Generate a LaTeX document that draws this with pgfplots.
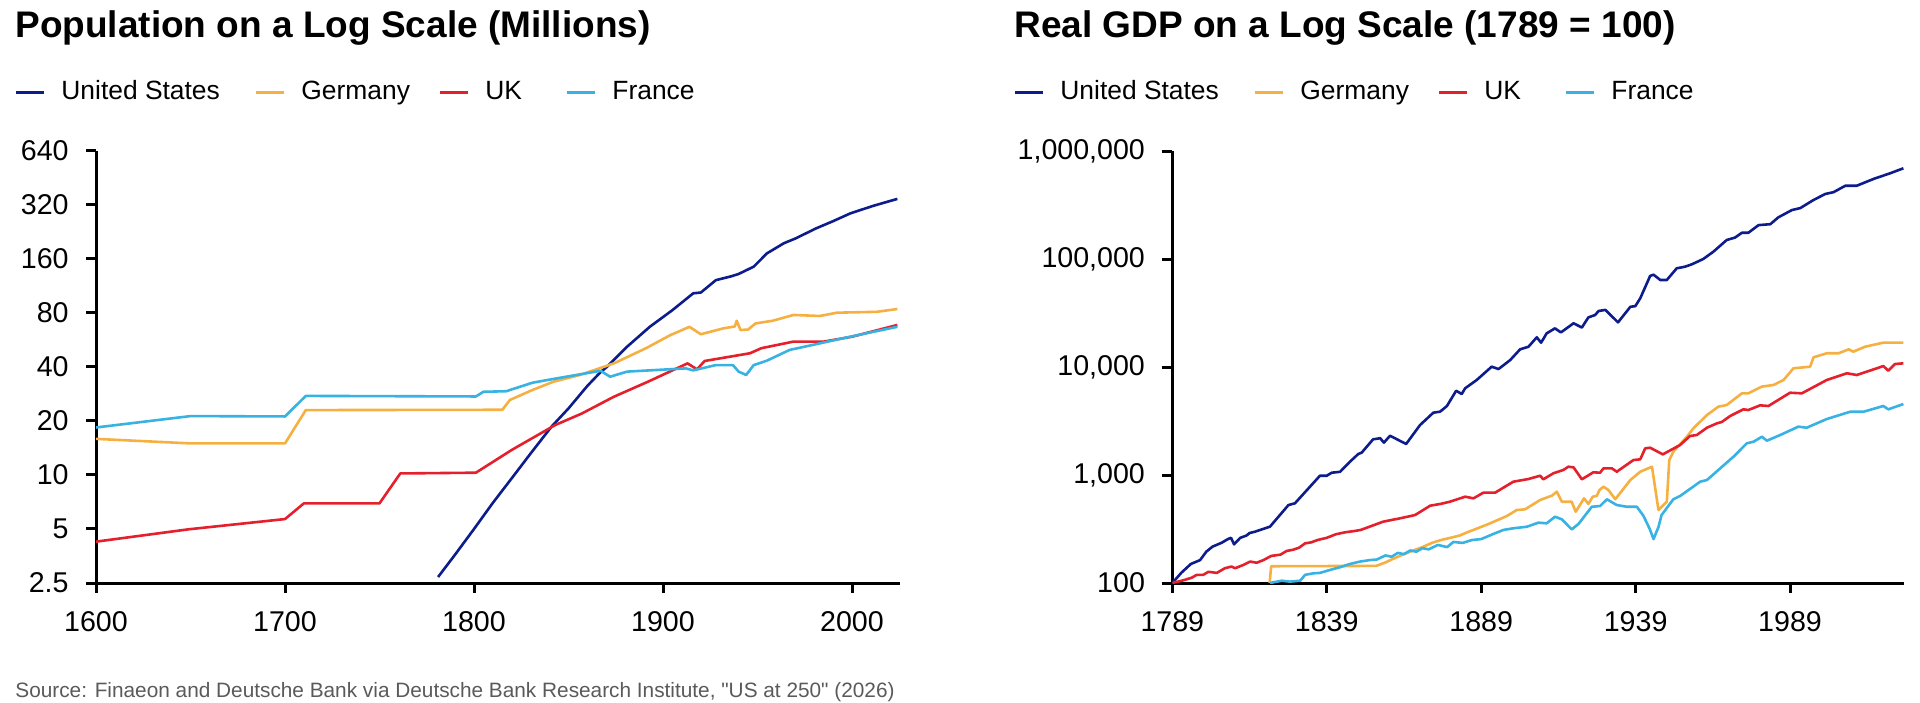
\documentclass[border=0pt]{standalone}
\usepackage{pgfplots}
\pgfplotsset{compat=1.18}
\usepackage{fontspec}
\setmainfont{Liberation Sans}
\newfontfamily\srcfont{Liberation Sans}[Ligatures=TeXOff]
\definecolor{usblue}{RGB}{12,28,140}
\definecolor{deorange}{RGB}{246,176,66}
\definecolor{ukred}{RGB}{228,32,44}
\definecolor{frblue}{RGB}{56,178,227}
\definecolor{srcgray}{RGB}{90,90,90}

\pgfplotstableread{
year val
1781 2.7
1790 3.6
1800 5.0
1810 7.0
1820 9.6
1830 13.2
1841 18.6
1850 23.5
1860 31.4
1867 37.5
1870 39.8
1881 51.9
1893 67
1905 83
1916 103
1920 104
1928 122
1936 128
1940 132
1948 145
1955 172
1964 196
1970 208
1981 237
1990 260
1999 287
2011 316
2024 346
}\popUS

\pgfplotstableread{
year val
1600 15.9
1650 15.0
1700 15.0
1711 23.0
1815 23.1
1819 26.2
1831 29.8
1842 33.1
1856 36.1
1874 41.9
1891 50.9
1904 60.3
1914 67
1920 60.9
1932 65.7
1938 67.3
1939 72.4
1941 64.3
1945 64.7
1949 70
1958 72.4
1969 78
1983 77
1992 80.3
2013 81.2
2024 84.2
}\popDE

\pgfplotstableread{
year val
1600 4.25
1649 4.98
1700 5.68
1710 6.95
1750 6.95
1761 10.2
1801 10.3
1820 13.8
1843 19
1857 22
1874 27.3
1892 33.1
1913 41.9
1918 38.8
1922 43.2
1946 47.7
1952 50.9
1969 55.4
1985 55.4
2000 59
2024 68.6
}\popUK

\pgfplotstableread{
year val
1600 18.4
1650 21.3
1700 21.2
1711 27.6
1801 27.4
1805 29.1
1817 29.3
1831 32.7
1844 34.6
1867 38.1
1872 35.3
1881 37.7
1912 39.3
1916 38.3
1928 41
1937 41
1940 37.7
1944 36.1
1948 41
1955 43.4
1967 49.8
1981 53.6
1999 59
2024 67
}\popFR

\pgfplotstableread{
year val
1789 100
1792 125
1795 150
1798 163
1800 195
1802 217
1805 236
1807 255
1808 262
1809 228
1811 262
1813 275
1814 290
1816 300
1818 314
1820.6 332
1826.6 527
1828.7 547
1836.8 985
1839 985
1840.6 1050
1843.3 1070
1846.5 1327
1849.2 1564
1850.3 1610
1854 2140
1856.3 2190
1857.5 1995
1859.5 2310
1864.7 1937
1869.2 2900
1873.5 3775
1875.7 3860
1877.9 4350
1880.9 6030
1882.7 5620
1883.8 6350
1887.6 7600
1892.4 10070
1894.6 9570
1898.4 11600
1901.6 14580
1904.3 15400
1907 18830
1908.4 16800
1910.2 20500
1912.9 22800
1914.8 20900
1918.9 25400
1921.6 23200
1923.7 28800
1925.9 30300
1927 33000
1929.2 33800
1933.3 25900
1937.3 36100
1938.9 36600
1940.5 43300
1943.7 69700
1944.8 71600
1947 63900
1949.1 63900
1952.3 82000
1955 84900
1957.2 89300
1960.9 100000
1964.2 117000
1968.5 150000
1971.2 158000
1973.4 175000
1975.5 175000
1978.8 206000
1982.6 210000
1985.2 243000
1989.6 284000
1992.3 296000
1996.6 352000
2000.4 400000
2003.1 416000
2006.9 477000
2010.6 477000
2016 551000
2021.4 622000
2025.7 692000
}\gdpUS

\pgfplotstableread{
year val
1789 100
1792.6 106
1795.3 112
1796.9 119
1799 119
1800.7 127
1803.4 124
1806 137
1808.2 142
1809.3 137
1812 147
1814.2 158
1816.3 154
1818.5 163
1821 178
1824 183
1826 198
1828 203
1830 212
1832 233
1834 238
1836 250
1839 262
1842 283
1845 295
1848 303
1850 310
1857.3 370
1862.7 397
1867.6 426
1872.5 520
1875.7 539
1878.9 566
1883.8 630
1886.5 608
1889.7 686
1893.5 686
1899.4 867
1904.3 918
1908.1 985
1909.1 912
1912.4 1038
1915.6 1113
1917.2 1193
1918.9 1178
1921.6 912
1925.3 1059
1927.5 1050
1928.6 1153
1931.3 1153
1932.9 1073
1938.3 1376
1940.5 1397
1942.1 1766
1943.7 1790
1947.8 1553
1953.4 1896
1956.6 2297
1958.8 2345
1962.1 2741
1965.3 3007
1966.9 3097
1969.6 3518
1973.9 4054
1975.5 3999
1979.3 4417
1982 4355
1989 5781
1992.8 5703
2000.9 7586
2007.4 8750
2010.6 8433
2017.1 9727
2019.2 10210
2020.8 9245
2023 10660
2025.7 10820
}\gdpUK

\pgfplotstableread{
year val
1820.5 100
1821 143
1855 144
1858 155
1861 170
1864 185
1867 200
1870 215
1873 235
1876 250
1879 262
1882 275
1884.5 295
1886.5 310
1891.9 357
1897.3 417
1900.5 474
1903.2 481
1908.1 587
1911.9 644
1913.5 701
1915.1 566
1918.3 566
1919.6 457
1922.3 608
1923.7 539
1925.1 630
1926.4 640
1927.3 726
1928.6 780
1930.2 726
1932.4 596
1937.3 899
1940.5 1073
1944.3 1193
1946.4 474
1949.1 566
1949.9 1376
1951.2 1644
1955.6 2263
1957.7 2706
1962.1 3593
1965.8 4296
1968.5 4447
1973.4 5703
1975.5 5703
1979.8 6577
1983.6 6813
1986.9 7586
1990.1 9727
1995.5 10070
1996.6 12300
2000.9 13400
2004.7 13400
2008 14580
2009.5 13870
2013.3 15420
2019.2 16800
2025.7 16800
}\gdpDE

\pgfplotstableread{
year val
1820.6 100
1824.4 105
1827.1 103
1830.4 105
1832 119
1834.7 123
1836.8 124
1840 132
1843.3 140
1846.5 150
1849.8 158
1853 163
1855.2 165
1858 180
1860 175
1862 190
1864 185
1866 200
1868 195
1870 210
1872 205
1875 225
1878 215
1880 240
1883 235
1886 250
1889 255
1893 285
1896.2 310
1899.4 321
1903.8 332
1907.5 362
1910.2 357
1912.9 411
1915.1 389
1918.3 314
1920.5 352
1924.8 508
1927.5 516
1929.7 596
1932.9 527
1936.2 508
1939.4 508
1941.5 420
1943.5 320
1944.8 255
1946.4 330
1947.4 426
1951.2 596
1953.4 639
1959.9 867
1962.1 899
1966.4 1153
1970.7 1479
1975 1965
1977.2 2035
1979.9 2263
1981.5 2078
1985.8 2345
1991.7 2804
1994.4 2741
2000.9 3300
2008.5 3855
2012.8 3855
2019.2 4355
2020.8 4054
2025.7 4543
}\gdpFR

\begin{document}
\begin{tikzpicture}[x=1pt,y=1pt]
\useasboundingbox (0,0) rectangle (960,351);

% ---------- Left chart ----------
\node[anchor=base west, inner sep=0pt, font=\bfseries\fontsize{18.5}{20}\selectfont] at (7.5,332) {Population on a Log Scale (Millions)};
\begin{scope}[font=\fontsize{13.2}{15}\selectfont]
\draw[usblue, line width=1.5pt] (8,304.5) -- (22,304.5);
\node[anchor=base west, inner sep=0pt] at (30.5,301) {United States};
\draw[deorange, line width=1.5pt] (128,304.5) -- (142,304.5);
\node[anchor=base west, inner sep=0pt] at (150.5,301) {Germany};
\draw[ukred, line width=1.5pt] (220,304.5) -- (234,304.5);
\node[anchor=base west, inner sep=0pt] at (242.5,301) {UK};
\draw[frblue, line width=1.5pt] (283.5,304.5) -- (297.5,304.5);
\node[anchor=base west, inner sep=0pt] at (306,301) {France};
\end{scope}

\begin{axis}[
  scale only axis,
  at={(48pt,59.5pt)}, anchor=south west,
  width=402pt, height=216pt,
  axis x line*=bottom, axis y line*=left,
  axis line style={line width=1.5pt, black},
  major tick style={line width=1.5pt, black},
  major tick length=5pt, tick align=outside,
  ymode=log, xminorticks=false, yminorticks=false,
  ticklabel style={font=\fontsize{14.3}{16}\selectfont},
  yticklabel style={anchor=east, inner sep=0pt, xshift=-8.5pt},
  xticklabel style={anchor=north, inner sep=0pt, yshift=-9pt},
  xmin=1600, xmax=2025.4,
  ymin=2.5, ymax=640,
  xtick={1600,1700,1800,1900,2000},
  xticklabels={1600,1700,1800,1900,2000},
  ytick={2.5,5,10,20,40,80,160,320,640},
  yticklabels={2.5,5,10,20,40,80,160,320,640},
]
\addplot[usblue, line width=1.3pt, line join=round, no markers] table[x=year,y=val] {\popUS};
\addplot[deorange, line width=1.3pt, line join=round, no markers] table[x=year,y=val] {\popDE};
\addplot[ukred, line width=1.3pt, line join=round, no markers] table[x=year,y=val] {\popUK};
\addplot[frblue, line width=1.3pt, line join=round, no markers] table[x=year,y=val] {\popFR};
\end{axis}

% ---------- Right chart ----------
\node[anchor=base west, inner sep=0pt, font=\bfseries\fontsize{18.5}{20}\selectfont] at (507,332) {Real GDP on a Log Scale (1789 = 100)};
\begin{scope}[font=\fontsize{13.2}{15}\selectfont, xshift=499.5pt]
\draw[usblue, line width=1.5pt] (8,304.5) -- (22,304.5);
\node[anchor=base west, inner sep=0pt] at (30.5,301) {United States};
\draw[deorange, line width=1.5pt] (128,304.5) -- (142,304.5);
\node[anchor=base west, inner sep=0pt] at (150.5,301) {Germany};
\draw[ukred, line width=1.5pt] (220,304.5) -- (234,304.5);
\node[anchor=base west, inner sep=0pt] at (242.5,301) {UK};
\draw[frblue, line width=1.5pt] (283.5,304.5) -- (297.5,304.5);
\node[anchor=base west, inner sep=0pt] at (306,301) {France};
\end{scope}

\begin{axis}[
  scale only axis,
  at={(586.15pt,59.5pt)}, anchor=south west,
  width=365.85pt, height=216pt,
  axis x line*=bottom, axis y line*=left,
  axis line style={line width=1.5pt, black},
  major tick style={line width=1.5pt, black},
  major tick length=5pt, tick align=outside,
  ymode=log, xminorticks=false, yminorticks=false,
  ticklabel style={font=\fontsize{14.3}{16}\selectfont},
  yticklabel style={anchor=east, inner sep=0pt, xshift=-8.5pt},
  xticklabel style={anchor=north, inner sep=0pt, yshift=-9pt},
  xmin=1789, xmax=2025.9,
  ymin=100, ymax=1000000,
  xtick={1789,1839,1889,1939,1989},
  xticklabels={1789,1839,1889,1939,1989},
  ytick={100,1000,10000,100000,1000000},
  yticklabels={100,{1,000},{10,000},{100,000},{1,000,000}},
]
\addplot[usblue, line width=1.3pt, line join=round, no markers] table[x=year,y=val] {\gdpUS};
\addplot[deorange, line width=1.3pt, line join=round, no markers] table[x=year,y=val] {\gdpDE};
\addplot[ukred, line width=1.3pt, line join=round, no markers] table[x=year,y=val] {\gdpUK};
\addplot[frblue, line width=1.3pt, line join=round, no markers] table[x=year,y=val] {\gdpFR};
\end{axis}

\node[anchor=base west, inner sep=0pt, text=srcgray, font=\srcfont\fontsize{10.4}{12}\selectfont] at (7.5,2.5) {Source: Finaeon and Deutsche Bank via Deutsche Bank Research Institute, "US at 250" (2026)};
\end{tikzpicture}
\end{document}
